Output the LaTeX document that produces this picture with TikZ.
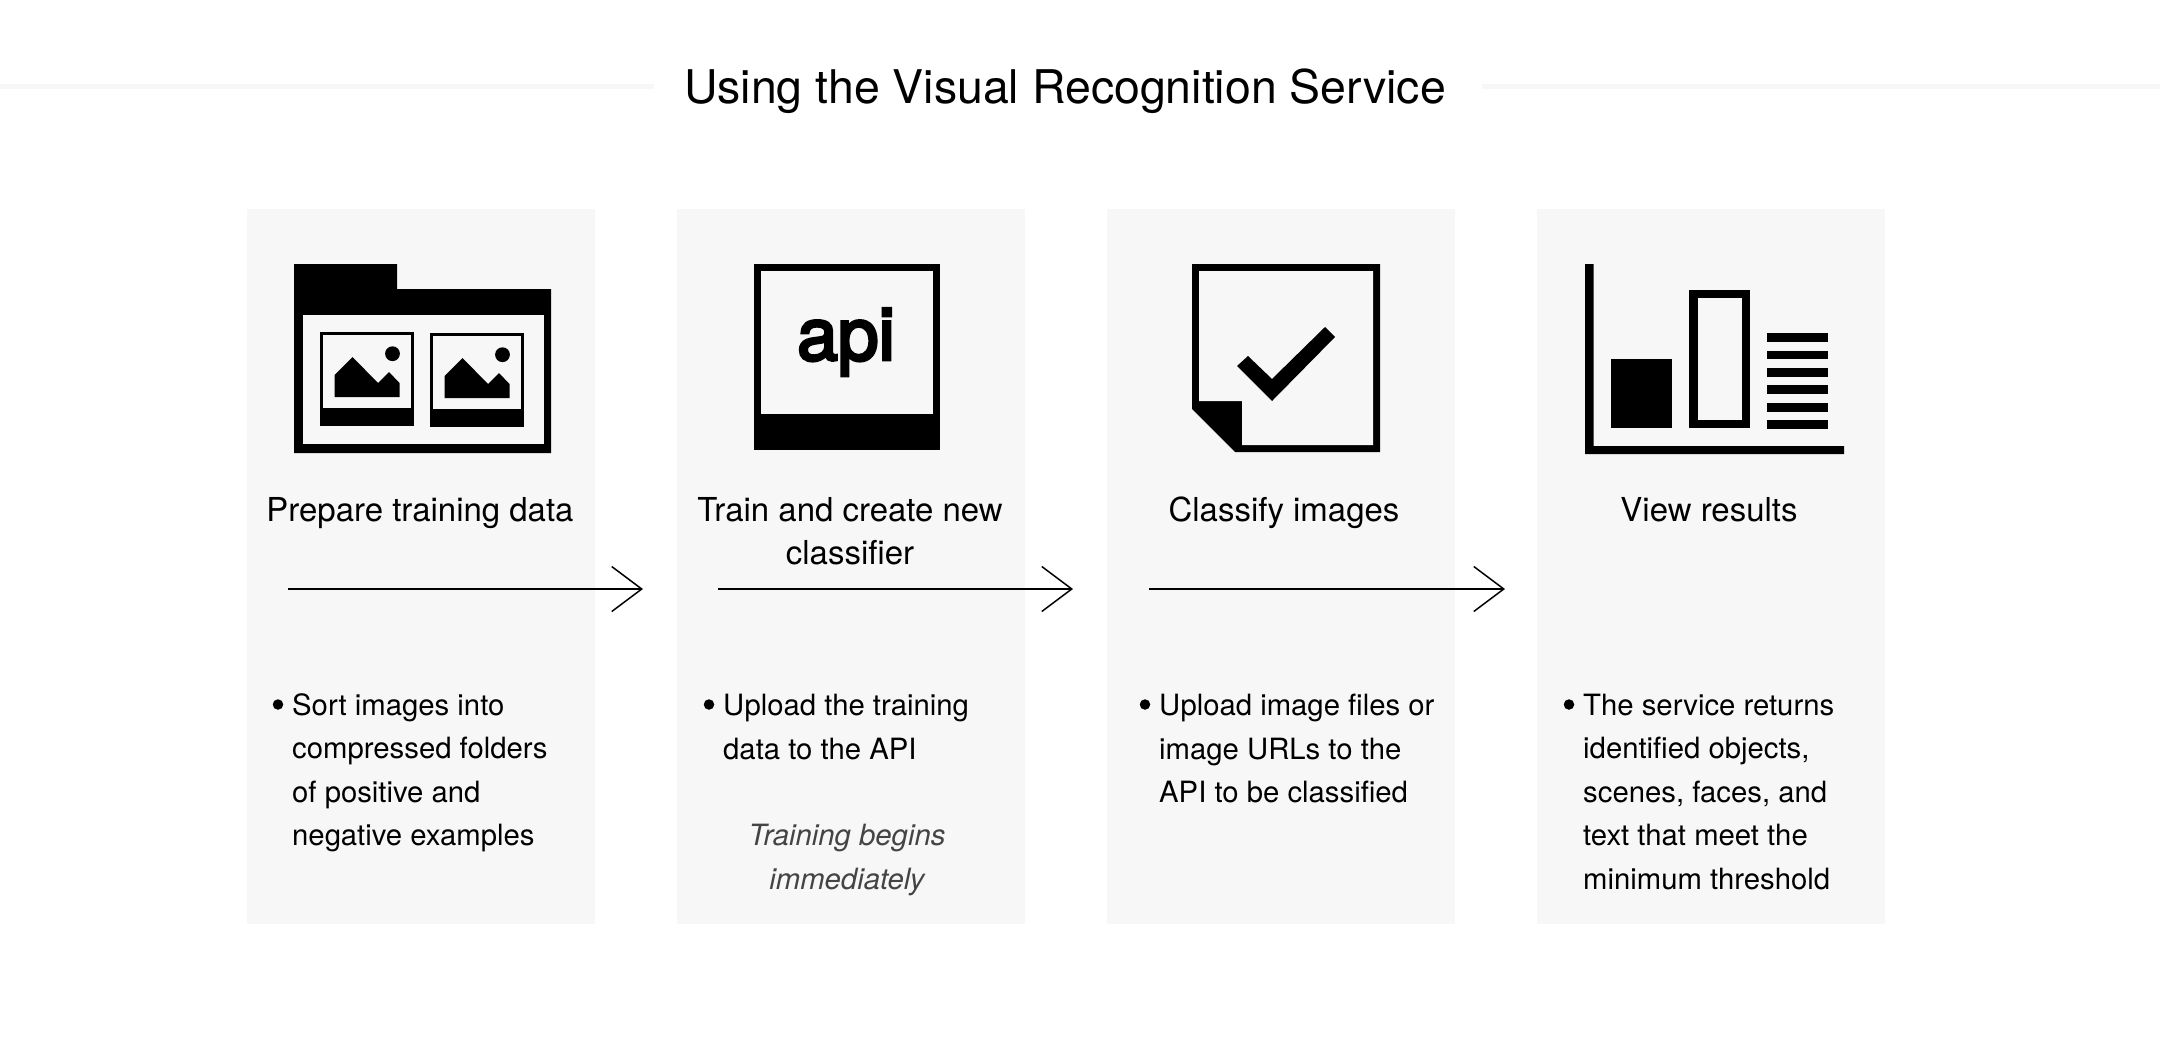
\documentclass[tikz,border=0pt]{standalone}
\usepackage{fontspec}
\usetikzlibrary{arrows.meta}
\setmainfont{TeX Gyre Heros}
\newfontfamily\apifont[FakeBold=4]{TeX Gyre Heros}
\definecolor{panel}{HTML}{F7F7F7}
\definecolor{rulegrey}{HTML}{F7F7F7}
\definecolor{notegrey}{HTML}{444444}
\tikzset{
  panelbox/.style={fill=panel,draw=none},
  ink/.style={fill=black,draw=none},
  paper/.style={fill=panel,draw=none},
  flowarrow/.style={line width=1.5bp,-{Straight Barb[length=30bp,width=45bp,line width=1.5bp]}},
  titletext/.style={font=\fontsize{46.6}{50}\selectfont,anchor=base,inner sep=0pt},
  headtext/.style={font=\fontsize{33.1}{43}\selectfont,anchor=base,inner sep=0pt,align=center},
  bodytext/.style={font=\fontsize{29.4}{43.5}\selectfont,anchor=base west,inner sep=0pt,align=left},
  notetext/.style={font=\itshape\fontsize{29.4}{43.5}\selectfont,text=notegrey,anchor=base,inner sep=0pt,align=center},
  bulletdot/.style={circle,fill=black,draw=none,inner sep=0pt,minimum size=10.5bp}
}
\begin{document}
\begin{tikzpicture}[x=1bp,y=-1bp]
\useasboundingbox (0,0) rectangle (2160,1041);
\fill[white] (0,0) rectangle (2160,1041);
% title rules
\fill[rulegrey] (0,84) rectangle (654,89);
\fill[rulegrey] (1482,84) rectangle (2160,89);
\node[titletext] (title) at (1065,103) {Using the Visual Recognition Service};
% panels
\fill[panelbox] (247,209) rectangle (595,924);
\fill[panelbox] (676.5,209) rectangle (1024.5,924);
\fill[panelbox] (1107,209) rectangle (1455,924);
\fill[panelbox] (1537,209) rectangle (1885,924);
% folder icon
\fill[ink] (294,264) -- (397,264) -- (397,289) -- (551,289) -- (551,453) -- (294,453) -- cycle;
\fill[paper] (302.5,315) rectangle (543.5,444);
\foreach \dx/\dy in {0/0,110/1}{
  \begin{scope}[shift={(\dx,\dy)}]
    \fill[ink] (320,332) rectangle (414,426);
    \fill[paper] (323,335) rectangle (411,408);
    \fill[ink] (334.5,397) -- (334.5,375) -- (352.5,357) -- (378,383) -- (389,372) -- (399.5,383) -- (399.5,397) -- cycle;
    \fill[ink] (392.5,353.7) circle [radius=7.4];
  \end{scope}
}
% api icon
\fill[ink] (754,264) rectangle (939.5,450);
\fill[paper] (761,271) rectangle (932.5,414);
\node[font=\apifont\fontsize{73.5}{73.5}\selectfont,anchor=base,inner sep=0pt] (apilabel) at (846,360) {api};
% document icon
\fill[ink] (1192,264) -- (1380,264) -- (1380,452) -- (1235,452) -- (1192,409) -- cycle;
\fill[paper] (1199,271) -- (1373,271) -- (1373,445) -- (1242,445) -- (1242,401) -- (1199,401) -- cycle;
\fill[ink] (1237,366) -- (1248,356) -- (1272,379) -- (1325,327) -- (1335,337) -- (1272,401) -- cycle;
% chart icon
\fill[ink] (1585,264) -- (1593.5,264) -- (1593.5,446) -- (1844,446) -- (1844,454) -- (1585,454) -- cycle;
\fill[ink] (1611,359) rectangle (1671.5,428);
\fill[ink] (1689,290) rectangle (1749.5,428);
\fill[paper] (1698,298) rectangle (1742,420);
\foreach \yy in {333,350.5,368,385,403,420}{
  \fill[ink] (1767,\yy) rectangle (1827.5,\yy+8.5);
}
% headings
\node[headtext] (h1) at (420,521) {Prepare training data};
\node[headtext] (h2) at (850,564) {Train and create new\\classifier};
\node[headtext] (h3) at (1284,521) {Classify images};
\node[headtext] (h4) at (1709,521) {View results};
% arrows
\coordinate (a1s) at (288,589);
\coordinate (a1e) at (643,589);
\coordinate (a2s) at (718,589);
\coordinate (a2e) at (1073,589);
\coordinate (a3s) at (1149,589);
\coordinate (a3e) at (1505,589);
\draw[flowarrow] (a1s) -- (a1e);
\draw[flowarrow] (a2s) -- (a2e);
\draw[flowarrow] (a3s) -- (a3e);
% bullets
\node[bulletdot] (b1) at (278,704.5) {};
\node[bulletdot] (b2) at (709,704.5) {};
\node[bulletdot] (b3) at (1145,704.5) {};
\node[bulletdot] (b4) at (1569,704.5) {};
\node[bodytext] (t1) at (292,845.5) {Sort images into\\compressed folders\\of positive and\\negative examples};
\node[bodytext] (t2) at (723,759) {Upload the training\\data to the API};
\node[notetext] (n2) at (847,889) {Training begins\\immediately};
\node[bodytext] (t3) at (1159,802.5) {Upload image files or\\image URLs to the\\API to be classified};
\node[bodytext] (t4) at (1583,889) {The service returns\\identified objects,\\scenes, faces, and\\text that meet the\\minimum threshold};
\end{tikzpicture}
\end{document}
